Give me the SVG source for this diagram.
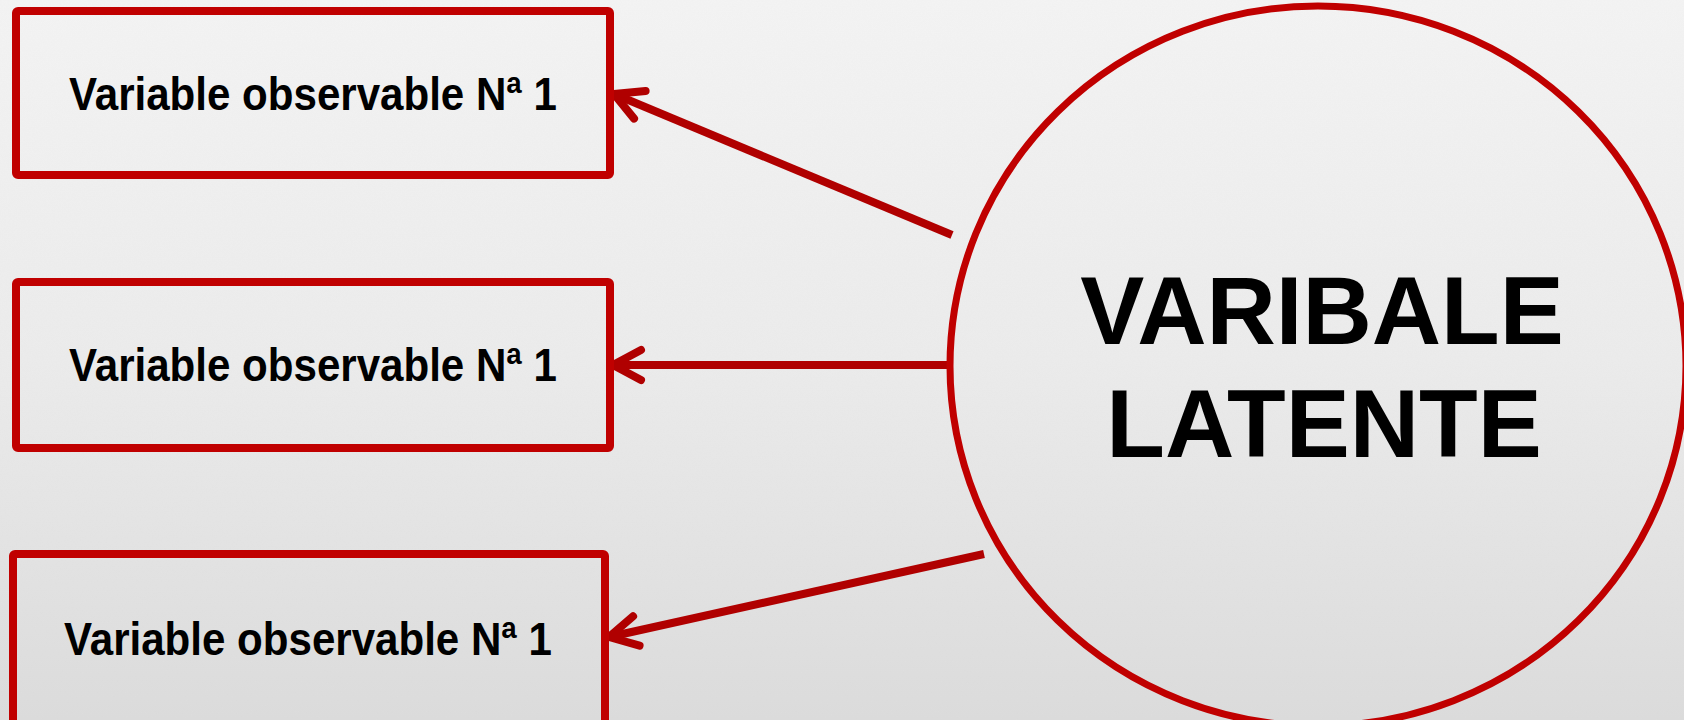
<svg xmlns="http://www.w3.org/2000/svg" width="1684" height="720" viewBox="0 0 1684 720">
<style>
.box{fill:none;stroke:#C00000;stroke-width:8}
.lbl{font-family:"Liberation Sans",Arial,sans-serif;font-weight:bold;font-size:46px;fill:#000;text-anchor:middle}
.big{font-family:"Liberation Sans",Arial,sans-serif;font-weight:bold;font-size:96px;fill:#000;text-anchor:middle}
.conn{stroke:#B00000;stroke-width:8;fill:none;stroke-linecap:butt}
</style>
<defs>
<linearGradient id="bg" x1="0" y1="0" x2="0" y2="1">
<stop offset="0" stop-color="#f4f4f4"/>
<stop offset="0.5" stop-color="#ececec"/>
<stop offset="1" stop-color="#dcdcdc"/>
</linearGradient>
<filter id="noise" x="0" y="0" width="1" height="1">
<feTurbulence type="fractalNoise" baseFrequency="0.8" numOctaves="2" seed="3"/>
<feColorMatrix type="matrix" values="0 0 0 0 0.5  0 0 0 0 0.5  0 0 0 0 0.5  0 0 0 0.06 0"/>
</filter>
<marker id="arr" markerUnits="userSpaceOnUse" viewBox="-40 -24 48 48" markerWidth="48" markerHeight="48" refX="0" refY="0" orient="auto">
<path d="M -28,-15 L 0,0 L -28,15" fill="none" stroke="#B00000" stroke-width="8" stroke-linecap="round" stroke-linejoin="round"/>
</marker>
</defs>
<rect x="0" y="0" width="1684" height="720" fill="url(#bg)"/>
<rect x="0" y="0" width="1684" height="720" filter="url(#noise)"/>
<g id="connectors">
<line class="conn" x1="952" y1="235" x2="614" y2="94" marker-end="url(#arr)"/>
<line class="conn" x1="949" y1="365" x2="613" y2="365" marker-end="url(#arr)"/>
<line class="conn" x1="984" y1="554" x2="609" y2="637" marker-end="url(#arr)"/>
</g>
<g id="obs1">
<rect class="box" x="16" y="11" width="594" height="164" rx="2"/>
<text class="lbl" x="313" y="110" textLength="488" lengthAdjust="spacingAndGlyphs">Variable observable Nª 1</text>
</g>
<g id="obs2">
<rect class="box" x="16" y="282" width="594" height="166" rx="2"/>
<text class="lbl" x="313" y="381" textLength="488" lengthAdjust="spacingAndGlyphs">Variable observable Nª 1</text>
</g>
<g id="obs3">
<rect class="box" x="13" y="554" width="592" height="176" rx="2"/>
<text class="lbl" x="308" y="655" textLength="488" lengthAdjust="spacingAndGlyphs">Variable observable Nª 1</text>
</g>
<g id="latent">
<ellipse cx="1318" cy="366" rx="368" ry="360" fill="none" stroke="#C00000" stroke-width="7"/>
<text class="big" x="1322" y="344">VARIBALE</text>
<text class="big" x="1324" y="457">LATENTE</text>
</g>
</svg>
